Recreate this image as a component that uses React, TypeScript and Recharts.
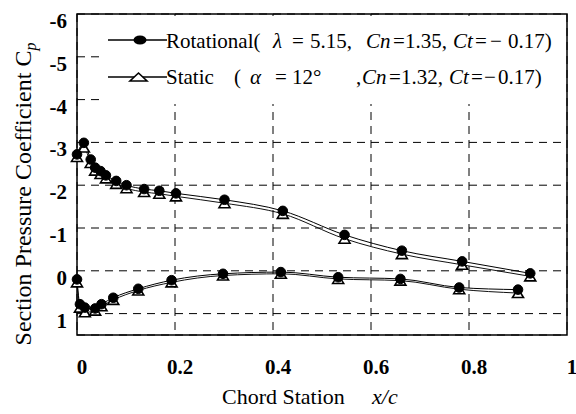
import React from 'react';
import { LineChart, Line, XAxis, YAxis, CartesianGrid, ReferenceArea } from 'recharts';

// chord stations (x/c) of the taps on each surface
const upperX = [0, 0.014, 0.028, 0.037, 0.048, 0.059, 0.08, 0.101, 0.137, 0.168, 0.202, 0.301, 0.42, 0.546, 0.663, 0.786, 0.925];
const lowerX = [0, 0.006, 0.016, 0.037, 0.05, 0.074, 0.125, 0.193, 0.298, 0.416, 0.533, 0.66, 0.78, 0.9];

// Cp values
const rotUpper = [-2.72, -2.99, -2.6, -2.41, -2.33, -2.23, -2.1, -2.0, -1.91, -1.87, -1.81, -1.66, -1.4, -0.84, -0.47, -0.22, 0.06];
const staticUpper = [-2.66, -2.88, -2.52, -2.34, -2.26, -2.16, -2.03, -1.93, -1.84, -1.8, -1.74, -1.58, -1.33, -0.75, -0.39, -0.14, 0.13];
const rotLower = [0.2, 0.78, 0.86, 0.88, 0.78, 0.63, 0.42, 0.22, 0.07, 0.03, 0.15, 0.19, 0.39, 0.44];
const staticLower = [0.27, 0.86, 0.97, 0.93, 0.83, 0.68, 0.46, 0.27, 0.11, 0.07, 0.19, 0.23, 0.43, 0.52];

const xTicks = [0, 0.2, 0.4, 0.6, 0.8, 1];
const yTicks = [-6, -5, -4, -3, -2, -1, 0, 1];

const FONT = 'Liberation Serif, Tinos, DejaVu Serif, serif';

const toPoints = (xs: number[], ys: number[]) => xs.map((x, i) => ({ x, cp: ys[i] }));

const CircleDot = (props: any) => {
  const { cx, cy, index } = props;
  if (cx == null || cy == null) return <g key={index} />;
  return <circle key={index} cx={cx} cy={cy} r={4.8} fill="#000" stroke="#000" />;
};

const TriDot = (props: any) => {
  const { cx, cy, index } = props;
  if (cx == null || cy == null) return <g key={index} />;
  const w = 5.5;
  const h = 4.5;
  return (
    <polygon
      key={index}
      points={`${cx - w},${cy + h} ${cx + w},${cy + h} ${cx},${cy - h}`}
      fill="#fff"
      stroke="#000"
      strokeWidth={1.6}
    />
  );
};

const XTick = (props: any) => {
  const { x, payload } = props;
  return (
    <text x={x + 5} y={374} textAnchor="middle" fontFamily={FONT} fontSize={21} fontWeight="bold" fill="#000">
      {payload.value}
    </text>
  );
};

const YTick = (props: any) => {
  const { y, payload } = props;
  return (
    <text x={67} y={y + 14} textAnchor="end" fontFamily={FONT} fontSize={21} fontWeight="bold" fill="#000">
      {payload.value}
    </text>
  );
};

const XTitle = () => (
  <text x={222} y={404} fontFamily={FONT} fontSize={22} fill="#000">
    Chord Station
    <tspan x={372} fontStyle="italic">x/c</tspan>
  </text>
);

const YTitle = () => (
  <text transform="translate(31,194) rotate(-90)" textAnchor="middle" fontFamily={FONT} fontSize={24} fill="#000">
    Section Pressure Coefficient C
    <tspan fontStyle="italic" fontSize={16} dy={5}>p</tspan>
  </text>
);

function LegendBox() {
  return (
    <svg width={576} height={414} style={{ position: 'absolute', left: 0, top: 0, pointerEvents: 'none' }}>
      <rect x={100} y={16} width={466} height={88} fill="#fff" />
      <line x1={108} x2={167} y1={40} y2={40} stroke="#000" strokeWidth={1.3} />
      <ellipse cx={140} cy={40} rx={6.5} ry={4.6} fill="#000" />
      <text y={48} fontFamily={FONT} fontSize={21} fill="#000">
        <tspan x={166}>Rotational(</tspan>
        <tspan x={273} fontStyle="italic">λ</tspan>
        <tspan x={292}>=</tspan>
        <tspan x={310}>5.15,</tspan>
        <tspan x={366} fontStyle="italic">Cn</tspan>
        <tspan x={393}>=</tspan>
        <tspan x={405}>1.35,</tspan>
        <tspan x={453} fontStyle="italic">Ct</tspan>
        <tspan x={475}>=</tspan>
        <tspan x={490}>−</tspan>
        <tspan x={508}>0.17)</tspan>
      </text>
      <line x1={108} x2={167} y1={77} y2={77} stroke="#000" strokeWidth={1.3} />
      <polygon points="130,81 147,81 138.5,73" fill="#fff" stroke="#000" strokeWidth={1.6} />
      <text y={84} fontFamily={FONT} fontSize={21} fill="#000">
        <tspan x={166}>Static</tspan>
        <tspan x={234}>(</tspan>
        <tspan x={250} fontStyle="italic">α</tspan>
        <tspan x={275}>=</tspan>
        <tspan x={292}>12°</tspan>
        <tspan x={356}>,</tspan>
        <tspan x={362} fontStyle="italic">Cn</tspan>
        <tspan x={389}>=</tspan>
        <tspan x={401}>1.32,</tspan>
        <tspan x={449} fontStyle="italic">Ct</tspan>
        <tspan x={471}>=</tspan>
        <tspan x={484}>−</tspan>
        <tspan x={498}>0.17)</tspan>
      </text>
    </svg>
  );
}

export default function App() {
  return (
    <div style={{ position: 'absolute', left: 0, top: 0, width: 576, height: 414, background: '#fff' }}>
      <LineChart width={576} height={414} margin={{ top: 14, right: 9, left: 0, bottom: 0 }}>
        <CartesianGrid stroke="#000" strokeDasharray="8 6" strokeWidth={1} />
        <XAxis
          dataKey="x"
          type="number"
          domain={[0, 1]}
          ticks={xTicks}
          height={79}
          tickLine={false}
          axisLine={false}
          tick={<XTick />}
          label={{ content: <XTitle /> }}
          allowDuplicatedCategory={false}
        />
        <YAxis
          type="number"
          reversed
          domain={[-6, 1.5]}
          ticks={yTicks}
          width={77}
          tickLine={false}
          axisLine={false}
          tick={<YTick />}
          label={{ content: <YTitle /> }}
        />
        <ReferenceArea x1={0} x2={1} y1={-6} y2={1.5} fill="none" stroke="#000" strokeWidth={1.5} />
        <Line data={toPoints(upperX, staticUpper)} dataKey="cp" type="monotone" stroke="#111" strokeWidth={1} dot={TriDot} isAnimationActive={false} />
        <Line data={toPoints(lowerX, staticLower)} dataKey="cp" type="monotone" stroke="#111" strokeWidth={1} dot={TriDot} isAnimationActive={false} />
        <Line data={toPoints(upperX, rotUpper)} dataKey="cp" type="monotone" stroke="#000" strokeWidth={1} dot={CircleDot} isAnimationActive={false} />
        <Line data={toPoints(lowerX, rotLower)} dataKey="cp" type="monotone" stroke="#000" strokeWidth={1} dot={CircleDot} isAnimationActive={false} />
      </LineChart>
      <LegendBox />
    </div>
  );
}
